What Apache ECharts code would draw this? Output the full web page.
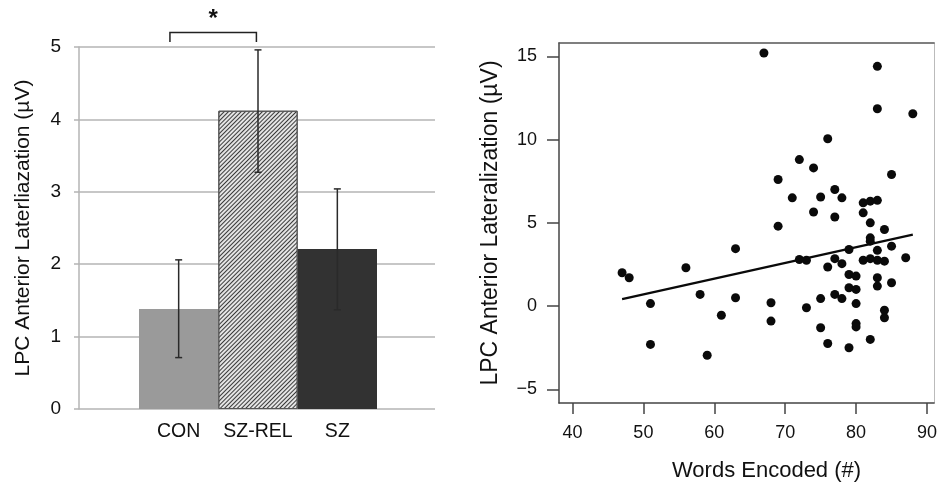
<!DOCTYPE html>
<html>
<head>
<meta charset="utf-8">
<title>LPC lateralization</title>
<script src="https://cdn.jsdelivr.net/npm/echarts@6.0.0/dist/echarts.min.js"></script>
<style>
html, body { margin: 0; padding: 0; background: #fff; }
#main { width: 940px; height: 487px; }
</style>
</head>
<body>
<div id="main"></div>
<script>
// bar panel: group means and error bar ends
var groupNames = ['CON', 'SZ-REL', 'SZ'];
var groupMeans = [1.38, 4.12, 2.21];
var errLow = [0.71, 3.27, 1.37];
var errHigh = [2.06, 4.96, 3.04];

// significance bracket between CON and SZ-REL
var bracketPair = [0, 1];
var bracketTop = 5.2;
var bracketFoot = 5.07;
var starLevel = 5.38;

// scatter panel: words encoded vs lateralization
var wordsEncoded = [
	67, 83, 83, 88, 76, 72, 74, 69, 85, 71,
	75, 77, 78, 81, 82, 83, 74, 77, 81, 82,
	69, 84, 82, 82, 63, 79, 83, 85, 87, 72,
	73, 77, 81, 82, 83, 84, 78, 76, 56, 47,
	48, 79, 80, 83, 83, 85, 79, 80, 58, 77,
	78, 75, 63, 51, 68, 80, 73, 61, 84, 84,
	68, 80, 80, 75, 82, 76, 51, 79, 59
];
var lateralization = [
	15.2, 14.4, 11.85, 11.55, 10.05, 8.8, 8.3, 7.6, 7.9, 6.5,
	6.55, 7.0, 6.5, 6.2, 6.3, 6.35, 5.65, 5.35, 5.6, 5.0,
	4.8, 4.6, 4.1, 3.9, 3.45, 3.4, 3.35, 3.6, 2.9, 2.8,
	2.75, 2.85, 2.75, 2.85, 2.75, 2.7, 2.55, 2.35, 2.3, 2.0,
	1.7, 1.9, 1.8, 1.7, 1.2, 1.4, 1.1, 1.0, 0.7, 0.7,
	0.45, 0.45, 0.5, 0.15, 0.2, 0.15, -0.1, -0.55, -0.25, -0.7,
	-0.9, -1.05, -1.25, -1.3, -2.0, -2.25, -2.3, -2.5, -2.95
];

// fitted line ends
var fitX = [47, 88];
var fitY = [0.42, 4.29];

var scatterXTicks = [40, 50, 60, 70, 80, 90];
var scatterYTicks = [-5, 0, 5, 10, 15];

var myChart = echarts.init(document.getElementById('main'));

var font = 'Liberation Sans, Arial, sans-serif';
var gridGray = '#b4b4b4';

var barData = [];
for (var i = 0; i < groupMeans.length; i++) {
	barData.push({ value: groupMeans[i] });
}
barData[0].itemStyle = { color: '#9a9a9a' };
barData[1].itemStyle = {
	color: '#e4e4e4',
	borderColor: '#555',
	borderWidth: 1,
	decal: {
		symbol: 'rect',
		symbolSize: 1,
		dashArrayX: [1, 0],
		dashArrayY: [1, 1.5],
		rotation: -Math.PI / 4,
		color: '#3a3a3a'
	}
};
barData[2].itemStyle = { color: '#323232' };

var errData = [];
for (var i = 0; i < groupNames.length; i++) {
	errData.push([i, errLow[i], errHigh[i]]);
}

var scatterData = [];
for (var i = 0; i < wordsEncoded.length; i++) {
	scatterData.push([wordsEncoded[i], lateralization[i]]);
}

var fitData = [];
for (var i = 0; i < fitX.length; i++) {
	fitData.push([fitX[i], fitY[i]]);
}

function minusSign(v) {
	return String(v).replace('-', '\u2212');
}

var option = {
	animation: false,
	textStyle: { fontFamily: font },
	grid: [
		{ left: 79, right: 505, top: 47, bottom: 78 },
		{ left: 139, right: 563, top: 47, bottom: 78 },
		{ left: 559, right: 3, top: 43, bottom: 80 }
	],
	xAxis: [
		{ gridIndex: 0, type: 'category', data: [''], show: false },
		{
			gridIndex: 1, type: 'category', data: groupNames,
			axisLine: { show: false }, axisTick: { show: false },
			axisLabel: { interval: 0, margin: 13, fontSize: 19.5, color: '#111', fontFamily: font }
		},
		{
			gridIndex: 2, type: 'value', min: 38.1, max: 91,
			axisLine: { show: true, onZero: false, lineStyle: { color: '#444', width: 1.5 } },
			axisTick: { show: true, length: 11, customValues: scatterXTicks, lineStyle: { color: '#444', width: 1.5 } },
			axisLabel: { customValues: scatterXTicks, margin: 21, fontSize: 18, color: '#111', fontFamily: font },
			splitLine: { show: false },
			name: 'Words Encoded (#)', nameLocation: 'middle', nameGap: 57,
			nameTextStyle: { fontSize: 22, color: '#111', fontFamily: font, padding: [0, 0, 0, 40] }
		},
		{
			gridIndex: 2, type: 'value', position: 'top', min: 38.1, max: 91,
			axisLine: { show: true, onZero: false, lineStyle: { color: '#555', width: 1.5 } },
			axisTick: { show: false }, axisLabel: { show: false }, splitLine: { show: false }
		}
	],
	yAxis: [
		{
			gridIndex: 0, type: 'value', min: 0, max: 5, interval: 1,
			axisLine: { show: true, lineStyle: { color: gridGray, width: 1.5 } },
			axisTick: { show: true, length: 5, lineStyle: { color: gridGray, width: 1.5 } },
			axisLabel: { margin: 18, fontSize: 19, color: '#111', fontFamily: font },
			splitLine: { show: true, lineStyle: { color: gridGray, width: 1.5 } },
			name: 'LPC Anterior Laterliazation (\u00b5V)', nameLocation: 'middle', nameRotate: 90, nameGap: 45,
			nameTextStyle: { fontSize: 21, color: '#111', fontFamily: font }
		},
		{ gridIndex: 1, type: 'value', min: 0, max: 5, show: false },
		{
			gridIndex: 2, type: 'value', min: -5.82, max: 15.8,
			axisLine: { show: true, onZero: false, lineStyle: { color: '#444', width: 1.5 } },
			axisTick: { show: true, length: 12, customValues: scatterYTicks, lineStyle: { color: '#444', width: 1.5 } },
			axisLabel: { customValues: scatterYTicks, formatter: minusSign, margin: 22, fontSize: 18, color: '#111', fontFamily: font },
			splitLine: { show: false },
			name: 'LPC Anterior Lateralization (\u00b5V)', nameLocation: 'middle', nameRotate: 90, nameGap: 57,
			nameTextStyle: { fontSize: 23, color: '#111', fontFamily: font }
		},
		{
			gridIndex: 2, type: 'value', position: 'right', min: -5.82, max: 15.8,
			axisLine: { show: true, onZero: false, lineStyle: { color: '#bbb', width: 1 } },
			axisTick: { show: false }, axisLabel: { show: false }, splitLine: { show: false }
		}
	],
	series: [
		{
			type: 'bar', xAxisIndex: 1, yAxisIndex: 1,
			barWidth: '100%', data: barData, z: 2
		},
		{
			type: 'custom', xAxisIndex: 1, yAxisIndex: 1, z: 5,
			data: errData,
			renderItem: function (params, api) {
				var lo = api.coord([api.value(0), api.value(1)]);
				var hi = api.coord([api.value(0), api.value(2)]);
				var cap = 3.5;
				var st = { stroke: '#2a2a2a', lineWidth: 1.5 };
				return {
					type: 'group',
					children: [
						{ type: 'line', shape: { x1: lo[0], y1: lo[1], x2: hi[0], y2: hi[1] }, style: st },
						{ type: 'line', shape: { x1: lo[0] - cap, y1: lo[1], x2: lo[0] + cap, y2: lo[1] }, style: st },
						{ type: 'line', shape: { x1: hi[0] - cap, y1: hi[1], x2: hi[0] + cap, y2: hi[1] }, style: st }
					]
				};
			}
		},
		{
			type: 'custom', xAxisIndex: 1, yAxisIndex: 1, z: 5, clip: false,
			data: [[bracketPair[0], bracketPair[1], bracketTop, bracketFoot, starLevel]],
			renderItem: function (params, api) {
				var bw = api.size([1, 0])[0];
				var a = api.coord([api.value(0), api.value(2)]);
				var b = api.coord([api.value(1), api.value(2)]);
				var foot = api.coord([api.value(0), api.value(3)]);
				var star = api.coord([api.value(0), api.value(4)]);
				var x0 = a[0] - 0.11 * bw;
				var x1 = b[0] - 0.02 * bw;
				return {
					type: 'group',
					children: [
						{
							type: 'polyline',
							shape: { points: [[x0, foot[1]], [x0, a[1]], [x1, a[1]], [x1, foot[1]]] },
							style: { stroke: '#222', lineWidth: 1.5, fill: null }
						},
						{
							type: 'text',
							style: {
								x: (x0 + x1) / 2, y: star[1], text: '*',
								font: 'bold 24px ' + font, fill: '#111',
								align: 'center', verticalAlign: 'middle'
							}
						}
					]
				};
			}
		},
		{
			type: 'scatter', xAxisIndex: 2, yAxisIndex: 2,
			symbolSize: 9, data: scatterData,
			itemStyle: { color: '#0a0a0a', opacity: 1 }, z: 3
		},
		{
			type: 'line', xAxisIndex: 2, yAxisIndex: 2,
			data: fitData, symbol: 'none',
			lineStyle: { color: '#0a0a0a', width: 2.2 }, z: 4
		}
	]
};

myChart.setOption(option);
</script>
</body>
</html>
